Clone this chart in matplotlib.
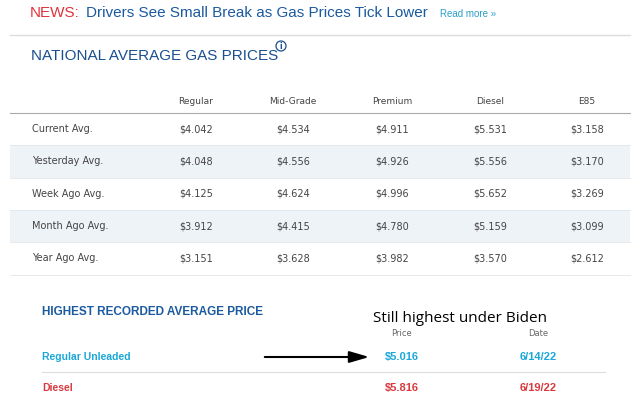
import matplotlib
matplotlib.use("Agg")
import matplotlib.pyplot as plt
from matplotlib.patches import Rectangle, Circle

columns = ["Regular", "Mid-Grade", "Premium", "Diesel", "E85"]
rows = ["Current Avg.", "Yesterday Avg.", "Week Ago Avg.", "Month Ago Avg.", "Year Ago Avg."]
regular = ["$4.042", "$4.048", "$4.125", "$3.912", "$3.151"]
midgrade = ["$4.534", "$4.556", "$4.624", "$4.415", "$3.628"]
premium = ["$4.911", "$4.926", "$4.996", "$4.780", "$3.982"]
diesel = ["$5.531", "$5.556", "$5.652", "$5.159", "$3.570"]
e85 = ["$3.158", "$3.170", "$3.269", "$3.099", "$2.612"]
record_types = ["Regular Unleaded", "Diesel"]
record_prices = ["$5.016", "$5.816"]
record_dates = ["6/14/22", "6/19/22"]

fig = plt.figure(figsize=(6.4, 4.18), dpi=100)
ax = fig.add_axes([0, 0, 1, 1])
ax.set_xlim(0, 640); ax.set_ylim(418, 0); ax.axis("off")

navy = "#1a4f8f"; gray = "#444444"
ax.text(30, 13, "NEWS:", color="#e0323a", fontsize=11, va="center", family="Liberation Sans")
ax.text(86, 13, "Drivers See Small Break as Gas Prices Tick Lower", color="#1a5aa0",
        fontsize=11, va="center", family="Liberation Sans")
ax.text(440, 14, "Read more »", color="#2a9fc8", fontsize=7, va="center", family="Liberation Sans")
ax.plot([10, 630], [35, 35], color="#dddddd", lw=1)
ax.text(31, 56, "NATIONAL AVERAGE GAS PRICES", color=navy, fontsize=11, va="center",
        family="Liberation Sans")
ax.add_patch(Circle((281, 46), 5, fill=False, ec=navy, lw=0.9))
ax.text(281, 46.5, "i", color=navy, fontsize=5.5, fontweight="bold", va="center", ha="center")

colx = [196, 293, 392, 490, 587]
for x, c in zip(colx, columns):
    ax.text(x, 102, c, ha="center", va="center", fontsize=6.5, color=gray)
ax.plot([10, 630], [113, 113], color="#aaaaaa", lw=0.8)
data = [regular, midgrade, premium, diesel, e85]
rowh = 32.3
for i, r in enumerate(rows):
    y0 = 113 + i * rowh
    if i % 2 == 1:
        ax.add_patch(Rectangle((10, y0), 620, rowh, color="#eef3f8", lw=0))
    ax.plot([10, 630], [y0 + rowh, y0 + rowh], color="#e2e6ea", lw=0.6)
    yc = y0 + rowh / 2
    ax.text(32, yc, r, va="center", fontsize=7, color=gray)
    for x, col in zip(colx, data):
        ax.text(x, yc, col[i], ha="center", va="center", fontsize=7, color=gray)

ax.text(42, 312, "HIGHEST RECORDED AVERAGE PRICE", color="#1a5aa0", fontsize=8.5,
        fontweight="bold", va="center", family="Liberation Sans")
ax.text(460, 318, "Still highest under Biden", fontsize=11, va="center", ha="center",
        color="black", family="Open Sans")
ax.text(402, 333, "Price", ha="center", va="center", fontsize=6, color="#666666")
ax.text(538, 333, "Date", ha="center", va="center", fontsize=6, color="#666666")
rcols = ["#1ba8d8", "#d9393e"]
for i, (t, p, d) in enumerate(zip(record_types, record_prices, record_dates)):
    y = 357 + i * 31
    ax.text(42, y, t, color=rcols[i], fontsize=7.5, fontweight="bold", va="center",
            family="Liberation Sans")
    ax.text(402, y, p, color=rcols[i], fontsize=8, fontweight="bold", va="center",
            ha="center", family="Liberation Sans")
    ax.text(538, y, d, color=rcols[i], fontsize=8, fontweight="bold", va="center",
            ha="center", family="Liberation Sans")
ax.plot([42, 605], [372, 372], color="#dddddd", lw=0.8)
ax.annotate("", xy=(372, 357), xytext=(262, 357),
            arrowprops=dict(arrowstyle="-|>,head_length=1.2,head_width=0.35", color="black", lw=1.5))
fig.savefig("out.png", dpi=100)
